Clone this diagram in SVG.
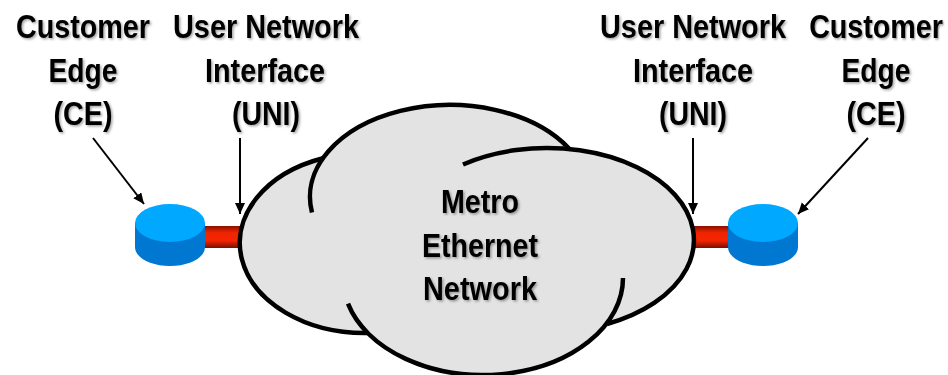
<svg xmlns="http://www.w3.org/2000/svg" width="948" height="375" viewBox="0 0 948 375">
<style>
text{font-family:"Liberation Sans",Arial,sans-serif;font-weight:700;font-size:32.5px;fill:#000;text-anchor:middle;filter:url(#sh)}
.cl{fill:none;stroke:#000;stroke-width:4.5;stroke-linecap:butt}
.lobe{fill:#e3e3e3}
.ar{stroke:#000;stroke-width:2;fill:none;marker-end:url(#ah)}
.top{fill:#00a8ff}.side{fill:#0078d2}
</style>
<defs>
<filter id="sh" x="-10%" y="-10%" width="120%" height="130%"><feDropShadow dx="1.5" dy="1.5" stdDeviation="0.9" flood-color="#000" flood-opacity="0.35"/></filter>
<linearGradient id="red" x1="0" y1="0" x2="0" y2="1"><stop offset="0" stop-color="#8a1000"/><stop offset="0.3" stop-color="#f02400"/><stop offset="0.65" stop-color="#f52600"/><stop offset="1" stop-color="#7a0e00"/></linearGradient>
<marker id="ah" markerUnits="userSpaceOnUse" markerWidth="12" markerHeight="12" refX="11" refY="5" orient="auto"><path d="M0 0L11 5L0 10Z" fill="#000"/></marker>
</defs>
<g id="connectors">
<rect x="205" y="226" width="38" height="22" fill="url(#red)"/>
<rect x="692" y="226" width="38" height="22" fill="url(#red)"/>
<path class="ar" d="M93 138L144 204"/>
<path class="ar" d="M240 138V214"/>
<path class="ar" d="M693 138V214"/>
<path class="ar" d="M868 138L798 214"/>
</g>
<g id="cloud">
<ellipse class="lobe" cx="365" cy="243" rx="125" ry="90"/>
<ellipse class="lobe" cx="483" cy="278" rx="140" ry="97"/>
<ellipse class="lobe" cx="547" cy="240" rx="147" ry="92"/>
<ellipse class="lobe" cx="450" cy="197" rx="140" ry="92"/>
<path class="cl" d="M323 158.2A125 90 0 0 0 367 333"/>
<path class="cl" d="M348 303.7A140 97 0 0 0 623 278"/>
<path class="cl" d="M607 324A147 92 0 1 0 463 164.5"/>
<path class="cl" d="M312 212.5A140 92 0 0 1 569 148.5"/>
<text x="480" y="213" textLength="78" lengthAdjust="spacingAndGlyphs">Metro</text>
<text x="480" y="257" textLength="116" lengthAdjust="spacingAndGlyphs">Ethernet</text>
<text x="480" y="300" textLength="114" lengthAdjust="spacingAndGlyphs">Network</text>
</g>
<g id="ce-left">
<path class="side" d="M135 223V247C135 258 151 266 170 266S205 258 205 247V223Z"/>
<ellipse class="top" cx="170" cy="223" rx="35" ry="19"/>
</g>
<g id="ce-right">
<path class="side" d="M728 223V247C728 258 744 266 763 266S798 258 798 247V223Z"/>
<ellipse class="top" cx="763" cy="223" rx="35" ry="19"/>
</g>
<g id="label-ce-left">
<text x="83" y="38" textLength="134" lengthAdjust="spacingAndGlyphs">Customer</text><text x="83" y="82" textLength="69" lengthAdjust="spacingAndGlyphs">Edge</text><text x="83" y="125" textLength="59" lengthAdjust="spacingAndGlyphs">(CE)</text>
</g>
<g id="label-uni-left">
<text x="266" y="38" textLength="186" lengthAdjust="spacingAndGlyphs">User Network</text><text x="265" y="82" textLength="120" lengthAdjust="spacingAndGlyphs">Interface</text><text x="266" y="125" textLength="68" lengthAdjust="spacingAndGlyphs">(UNI)</text>
</g>
<g id="label-uni-right">
<text x="693" y="38" textLength="186" lengthAdjust="spacingAndGlyphs">User Network</text><text x="693" y="82" textLength="120" lengthAdjust="spacingAndGlyphs">Interface</text><text x="693" y="125" textLength="68" lengthAdjust="spacingAndGlyphs">(UNI)</text>
</g>
<g id="label-ce-right">
<text transform="translate(876 38) scale(.8816 1)" x="0" y="0">Customer</text><text x="876" y="82" textLength="69" lengthAdjust="spacingAndGlyphs">Edge</text><text x="876" y="125" textLength="59" lengthAdjust="spacingAndGlyphs">(CE)</text>
</g>
</svg>
